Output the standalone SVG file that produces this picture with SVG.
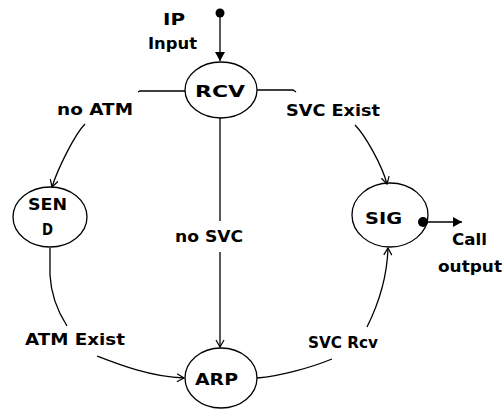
<svg xmlns="http://www.w3.org/2000/svg" width="503" height="410" viewBox="0 0 503 410">
<style>
.st{fill:none;stroke:#000;stroke-width:1.3}
.ln{fill:none;stroke:#000;stroke-width:1.3}
text{font-family:"DejaVu Sans","Liberation Sans",sans-serif;font-weight:bold;font-size:16px;fill:#000}
</style>
<defs>
<marker id="chev" markerUnits="userSpaceOnUse" markerWidth="12" markerHeight="12" refX="8" refY="5" orient="auto">
<path d="M1,1 L8,5 L1,9" fill="none" stroke="#000" stroke-width="1.2"/>
</marker>
<marker id="tri" markerUnits="userSpaceOnUse" markerWidth="12" markerHeight="12" refX="9" refY="5" orient="auto">
<path d="M0,0 L9,5 L0,10 Z" fill="#000"/>
</marker>
</defs>
<rect width="503" height="410" fill="#fff"/>
<g id="connectors">
<!-- input -->
<circle cx="220" cy="13" r="4.5" fill="#000"/>
<path class="ln" d="M220,13 L220,61" marker-end="url(#tri)"/>
<!-- RCV -> SEND -->
<path class="ln" d="M185,91 L140,91 L138,92"/>
<path class="ln" d="M85,124 C75,134 58,168 52,187" marker-end="url(#chev)"/>
<!-- RCV -> SIG -->
<path class="ln" d="M257,90 L293,90 L296,92"/>
<path class="ln" d="M355,125 C365,135 382,165 387,184" marker-end="url(#chev)"/>
<!-- RCV -> ARP -->
<path class="ln" d="M220,118 L220,221"/>
<path class="ln" d="M220,252 L220,347" marker-end="url(#chev)"/>
<!-- SEND -> ARP -->
<path class="ln" d="M50,248 L50,275 C51,295 58,312 67,326"/>
<path class="ln" d="M97,356 C115,363 150,377 184,378" marker-end="url(#chev)"/>
<!-- ARP -> SIG -->
<path class="ln" d="M257,378 C280,376 310,368 332,359"/>
<path class="ln" d="M367,327 C378,305 387,280 388,248" marker-end="url(#chev)"/>
<!-- output -->
<circle cx="423" cy="222" r="5" fill="#000"/>
<path class="ln" d="M423,222 L462,222" marker-end="url(#tri)"/>
</g>
<g id="labels">
<text x="163" y="25" textLength="22" lengthAdjust="spacingAndGlyphs">IP</text>
<text x="148" y="49" textLength="49" lengthAdjust="spacingAndGlyphs">Input</text>
<text x="57" y="115" textLength="76" lengthAdjust="spacingAndGlyphs">no ATM</text>
<text x="286" y="116" textLength="94" lengthAdjust="spacingAndGlyphs">SVC Exist</text>
<text x="175" y="242" textLength="68" lengthAdjust="spacingAndGlyphs">no SVC</text>
<text x="25" y="345" textLength="100" lengthAdjust="spacingAndGlyphs">ATM Exist</text>
<text x="308" y="348" textLength="70" lengthAdjust="spacingAndGlyphs">SVC Rcv</text>
<text x="452" y="245" textLength="35" lengthAdjust="spacingAndGlyphs">Call</text>
<text x="438" y="272" textLength="64" lengthAdjust="spacingAndGlyphs">output</text>
</g>
<g id="node-RCV">
<ellipse class="st" cx="221" cy="90" rx="36" ry="28"/>
<text x="195" y="97" textLength="50" lengthAdjust="spacingAndGlyphs">RCV</text>
</g>
<g id="node-SEND">
<ellipse class="st" cx="50" cy="217" rx="37" ry="30"/>
<text x="28" y="210" textLength="39" lengthAdjust="spacingAndGlyphs">SEN</text>
<text x="42" y="235" textLength="11" lengthAdjust="spacingAndGlyphs">D</text>
</g>
<g id="node-SIG">
<ellipse class="st" cx="390" cy="215" rx="38" ry="32"/>
<text x="365" y="224" textLength="37" lengthAdjust="spacingAndGlyphs">SIG</text>
</g>
<g id="node-ARP">
<ellipse class="st" cx="221" cy="378" rx="36" ry="30"/>
<text x="195" y="385" textLength="43" lengthAdjust="spacingAndGlyphs">ARP</text>
</g>
</svg>
